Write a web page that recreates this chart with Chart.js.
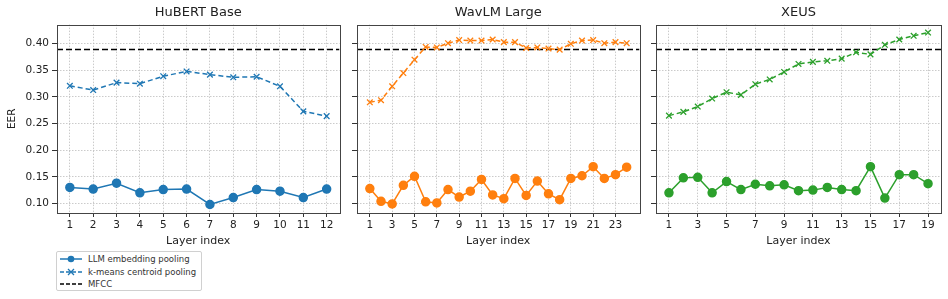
<!DOCTYPE html>
<html>
<head>
<meta charset="utf-8">
<script src="https://cdn.jsdelivr.net/npm/chart.js@4.4.1/dist/chart.umd.min.js"></script>
<style>
  body { margin: 0; background: #fff; width: 948px; height: 299px; overflow: hidden; position: relative; font-family: "DejaVu Sans", sans-serif; }
  canvas { position: absolute; top: 0; }
  #legend { position: absolute; left: 56px; top: 251px; width: 146px; height: 40px; box-sizing: border-box; border: 1px solid #d0d0d0; border-radius: 2px; font-size: 8.5px; color: #333; }
  #legend .row { position: absolute; left: 2px; height: 10px; display: flex; align-items: center; white-space: nowrap; }
  #legend svg { margin-right: 5px; }
</style>
</head>
<body>
<canvas id="hubert" width="345" height="250" style="left:0px"></canvas>
<canvas id="wavlm" width="300" height="250" style="left:345px"></canvas>
<canvas id="xeus" width="303" height="250" style="left:645px"></canvas>
<div id="legend">
  <div class="row" style="top:2px"><svg width="24" height="10"><line x1="1" y1="5" x2="23" y2="5" stroke="#1f77b4" stroke-width="1.5"/><circle cx="12" cy="5" r="3.3" fill="#1f77b4"/></svg><span>LLM embedding pooling</span></div>
  <div class="row" style="top:15px"><svg width="24" height="10"><line x1="1" y1="5" x2="23" y2="5" stroke="#1f77b4" stroke-width="1.5" stroke-dasharray="4,2"/><path d="M9 2 L15 8 M15 2 L9 8" stroke="#1f77b4" stroke-width="1.3"/></svg><span>k-means centroid pooling</span></div>
  <div class="row" style="top:27px"><svg width="24" height="10"><line x1="1" y1="5" x2="23" y2="5" stroke="#000" stroke-width="1.5" stroke-dasharray="4,2"/></svg><span>MFCC</span></div>
</div>
<script>
// layer indices
const hubertLayers = [1, 2, 3, 4, 5, 6, 7, 8, 9, 10, 11, 12];
const wavlmLayers = [1, 2, 3, 4, 5, 6, 7, 8, 9, 10, 11, 12, 13, 14, 15, 16, 17, 18, 19, 20, 21, 22, 23, 24];
const xeusLayers = [1, 2, 3, 4, 5, 6, 7, 8, 9, 10, 11, 12, 13, 14, 15, 16, 17, 18, 19];

// EER values
const hubertLlm = [0.130, 0.127, 0.138, 0.120, 0.126, 0.127, 0.098, 0.111, 0.126, 0.123, 0.111, 0.127];
const hubertKmeans = [0.321, 0.313, 0.327, 0.325, 0.339, 0.348, 0.342, 0.337, 0.338, 0.320, 0.273, 0.264];
const wavlmLlm = [0.128, 0.104, 0.099, 0.134, 0.151, 0.103, 0.101, 0.126, 0.112, 0.123, 0.145, 0.116,
                  0.109, 0.147, 0.115, 0.142, 0.118, 0.107, 0.147, 0.152, 0.169, 0.147, 0.154, 0.168];
const wavlmKmeans = [0.290, 0.294, 0.320, 0.345, 0.370, 0.394, 0.393, 0.401, 0.407, 0.406, 0.406, 0.408,
                     0.403, 0.403, 0.392, 0.393, 0.391, 0.389, 0.400, 0.406, 0.407, 0.401, 0.403, 0.401];
const xeusLlm = [0.120, 0.148, 0.149, 0.120, 0.141, 0.126, 0.136, 0.133, 0.135, 0.124, 0.125, 0.130,
                 0.126, 0.124, 0.169, 0.110, 0.154, 0.154, 0.137];
const xeusKmeans = [0.265, 0.272, 0.282, 0.297, 0.309, 0.304, 0.324, 0.333, 0.347, 0.362, 0.366, 0.368,
                    0.372, 0.384, 0.380, 0.398, 0.408, 0.415, 0.421];
const mfccEer = 0.389;

// ticks
const yTicks = [0.10, 0.15, 0.20, 0.25, 0.30, 0.35, 0.40];
const hubertXTicks = [1, 2, 3, 4, 5, 6, 7, 8, 9, 10, 11, 12];
const wavlmXTicks = [1, 3, 5, 7, 9, 11, 13, 15, 17, 19, 21, 23];
const xeusXTicks = [1, 3, 5, 7, 9, 11, 13, 15, 17, 19];

const yMin = 0.082, yMax = 0.436;
const FONT = 'DejaVu Sans';
const gridColor = 'rgba(185,185,185,0.75)';

const framePlugin = {
    id: 'frame',
    afterDatasetsDraw(chart) {
        const { ctx, chartArea: a } = chart;
        ctx.save();
        ctx.strokeStyle = '#444';
        ctx.lineWidth = 1;
        ctx.strokeRect(Math.round(a.left) + 0.5, Math.round(a.top) + 0.5, Math.round(a.right - a.left), Math.round(a.bottom - a.top));
        ctx.restore();
    }
};

function makePanel(id, title, layers, llm, kmeans, color, xTicks, opts) {
    const n = layers.length;
    const xMin = layers[0] - 0.05 * (n - 1);
    const xMax = layers[n - 1] + 0.05 * (n - 1);
    return new Chart(document.getElementById(id), {
        type: 'line',
        data: {
            datasets: [
                {
                    label: 'LLM embedding pooling',
                    data: layers.map((l, i) => ({ x: l, y: llm[i] })),
                    borderColor: color, backgroundColor: color,
                    borderWidth: 1.5, pointRadius: 4, pointStyle: 'circle'
                },
                {
                    label: 'k-means centroid pooling',
                    data: layers.map((l, i) => ({ x: l, y: kmeans[i] })),
                    borderColor: color, backgroundColor: color,
                    borderWidth: 1.5, borderDash: [5, 3],
                    pointRadius: 4, pointStyle: 'crossRot', pointBorderWidth: 1.3
                },
                {
                    label: 'MFCC',
                    data: [{ x: xMin, y: mfccEer }, { x: xMax, y: mfccEer }],
                    borderColor: '#000', borderWidth: 1.5, borderDash: [6, 3], pointRadius: 0
                }
            ]
        },
        options: {
            responsive: false,
            animation: false,
            layout: { padding: { left: 0, right: opts.padRight, top: 0, bottom: 0 } },
            plugins: {
                legend: { display: false },
                tooltip: { enabled: false },
                title: {
                    display: true, text: title, color: '#222', fullSize: false,
                    font: { family: FONT, size: 13, weight: 'normal' },
                    padding: { top: 5, bottom: 4 }
                }
            },
            scales: {
                x: {
                    type: 'linear', min: xMin, max: xMax,
                    afterBuildTicks: s => { s.ticks = xTicks.map(v => ({ value: v })); },
                    afterFit: s => { s.height = 37; },
                    grid: { color: gridColor, tickColor: '#333', tickLength: 4, tickBorderDash: [] },
                    border: { display: false, dash: [1.5, 1.5] },
                    ticks: { color: '#222', padding: 2, maxRotation: 0, autoSkip: false, font: { family: FONT, size: 10.5 }, callback: v => String(v) },
                    title: { display: true, text: 'Layer index', color: '#222', font: { family: FONT, size: 11 }, padding: { top: 0, bottom: 2 } }
                },
                y: {
                    min: yMin, max: yMax,
                    afterBuildTicks: s => { s.ticks = yTicks.map(v => ({ value: v })); },
                    afterFit: s => { s.width = opts.yWidth; },
                    grid: { color: gridColor, tickColor: '#333', tickLength: 5, tickBorderDash: [] },
                    border: { display: false, dash: [1.5, 1.5] },
                    ticks: { display: opts.showY, color: '#222', padding: 3, font: { family: FONT, size: 10.5 }, callback: v => v.toFixed(2) },
                    title: { display: opts.showY, text: 'EER', color: '#222', font: { family: FONT, size: 10.5 }, padding: { top: 6, bottom: 4 } }
                }
            }
        },
        plugins: [framePlugin]
    });
}

makePanel('hubert', 'HuBERT Base', hubertLayers, hubertLlm, hubertKmeans, '#1f77b4', hubertXTicks, { showY: true, yWidth: 57, padRight: 4 });
makePanel('wavlm', 'WavLM Large', wavlmLayers, wavlmLlm, wavlmKmeans, '#ff7f0e', wavlmXTicks, { showY: false, yWidth: 12, padRight: 4 });
makePanel('xeus', 'XEUS', xeusLayers, xeusLlm, xeusKmeans, '#2ca02c', xeusXTicks, { showY: false, yWidth: 11, padRight: 7 });
</script>
</body>
</html>
